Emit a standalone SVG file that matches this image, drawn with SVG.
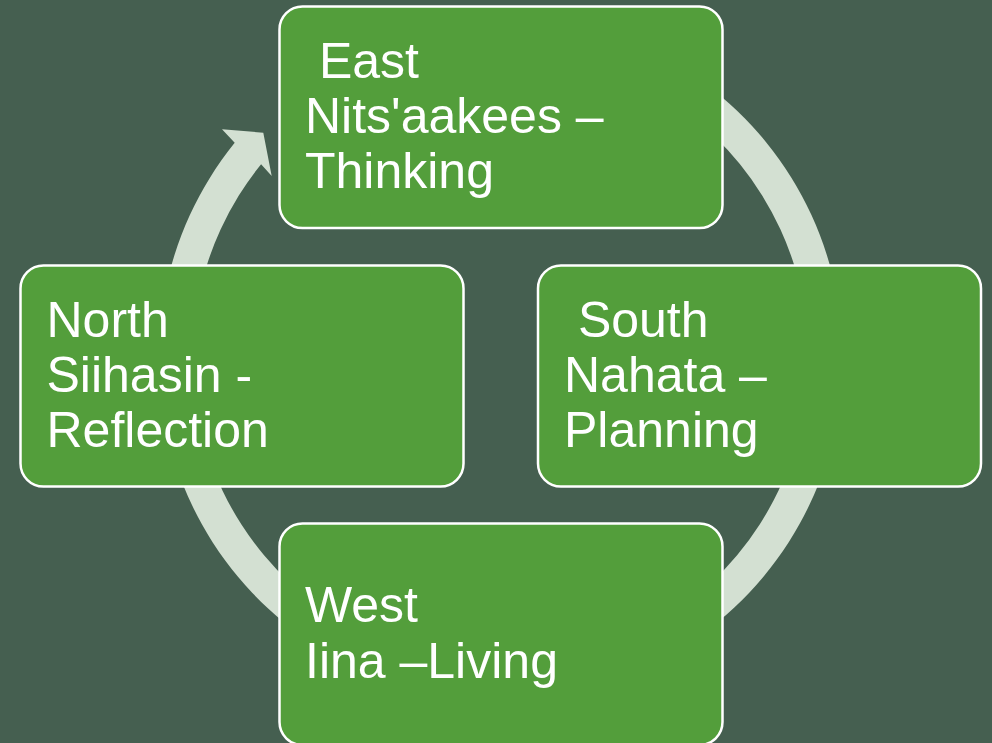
<svg xmlns="http://www.w3.org/2000/svg" width="992" height="743" viewBox="0 0 992 743">
  <style>
    .box { fill: #539E3B; stroke: #FFFFFF; stroke-width: 2.5; }
    .lbl { fill: #FFFFFF; font-family: "Liberation Sans", Arial, sans-serif; font-size: 50px; }
    .ring { fill: #D3E0D2; stroke: none; }
  </style>
  <rect x="0" y="0" width="992" height="743" fill="#455F50"/>
  <g id="connectors">
    <path class="ring" d="M 234.7 142.8 A 342 342 0 1 0 304.3 77.8 L 323.8 105.7 A 308 308 0 1 1 261.1 164.2 L 271.7 176 L 263.3 132.7 L 222 129.3 Z"/>
  </g>
  <g id="east">
    <rect class="box" x="279.5" y="6.5" width="443" height="221.5" rx="23" ry="23"/>
    <text class="lbl" xml:space="preserve"><tspan x="305" y="78">&#160;East</tspan><tspan x="305" y="133">Nits'aakees –</tspan><tspan x="305" y="188">Thinking</tspan></text>
  </g>
  <g id="south">
    <rect class="box" x="538" y="265.5" width="443" height="221" rx="23" ry="23"/>
    <text class="lbl" xml:space="preserve"><tspan x="564" y="337">&#160;South</tspan><tspan x="564" y="392">Nahata –</tspan><tspan x="564" y="447">Planning</tspan></text>
  </g>
  <g id="west">
    <rect class="box" x="279.5" y="523.5" width="443" height="221.5" rx="23" ry="23"/>
    <text class="lbl" xml:space="preserve"><tspan x="305" y="622">West</tspan><tspan x="305" y="678">Iina –Living</tspan></text>
  </g>
  <g id="north">
    <rect class="box" x="20.5" y="265.5" width="443" height="221" rx="23" ry="23"/>
    <text class="lbl" xml:space="preserve"><tspan x="46.5" y="337">North</tspan><tspan x="46.5" y="392">Siihasin -</tspan><tspan x="46.5" y="447">Reflection</tspan></text>
  </g>
</svg>
